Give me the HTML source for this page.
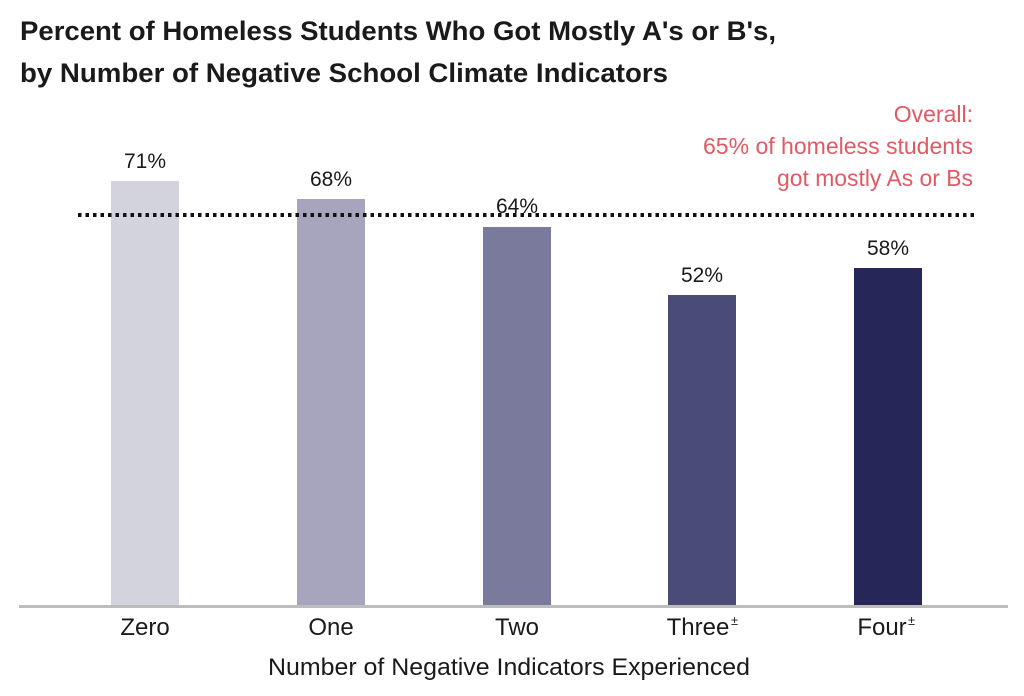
<!DOCTYPE html>
<html><head><style>
html,body{margin:0;padding:0;background:#fff;}
svg{display:block;}
text{font-family:"Liberation Sans Narrow","Liberation Sans",sans-serif;}
</style></head><body>
<svg width="1024" height="696" viewBox="0 0 1024 696">
<text x="20" y="40" font-size="27" font-weight="bold" fill="#1a1a1a" textLength="756" lengthAdjust="spacingAndGlyphs">Percent of Homeless Students Who Got Mostly A's or B's,</text>
<text x="20" y="82" font-size="27" font-weight="bold" fill="#1a1a1a" textLength="648" lengthAdjust="spacingAndGlyphs">by Number of Negative School Climate Indicators</text>
<g fill="#e05a63" font-size="23" text-anchor="end">
<text x="973" y="122">Overall:</text>
<text x="973" y="154" textLength="270" lengthAdjust="spacingAndGlyphs">65% of homeless students</text>
<text x="973" y="186" textLength="196" lengthAdjust="spacingAndGlyphs">got mostly As or Bs</text>
</g>
<rect x="111" y="181" width="68" height="426" fill="#d3d3de"/>
<rect x="297" y="199" width="68" height="408" fill="#a7a5bd"/>
<rect x="483" y="227" width="68" height="380" fill="#7a7a9c"/>
<rect x="668" y="295" width="68" height="312" fill="#4b4b78"/>
<rect x="854" y="268" width="68" height="339" fill="#262659"/>
<line x1="78" y1="215" x2="976" y2="215" stroke="#111" stroke-width="4" stroke-dasharray="3.5 4"/>
<g font-size="21" fill="#1a1a1a" text-anchor="middle">
<text x="145" y="168">71%</text>
<text x="331" y="186">68%</text>
<text x="517" y="213">64%</text>
<text x="702" y="282">52%</text>
<text x="888" y="255">58%</text>
</g>
<rect x="19" y="605" width="989" height="3" fill="#bdbdbd"/>
<g font-size="24" fill="#1a1a1a" text-anchor="middle">
<text x="145" y="635">Zero</text>
<text x="331" y="635">One</text>
<text x="517" y="635">Two</text>
<text x="698" y="635">Three</text>
<text x="882" y="635">Four</text>
</g>
<g font-size="13" fill="#1a1a1a"><text x="731" y="625">±</text><text x="908" y="625">±</text></g>
<text x="509" y="675" font-size="24" fill="#1a1a1a" text-anchor="middle" textLength="482" lengthAdjust="spacingAndGlyphs">Number of Negative Indicators Experienced</text>
</svg>
</body></html>
